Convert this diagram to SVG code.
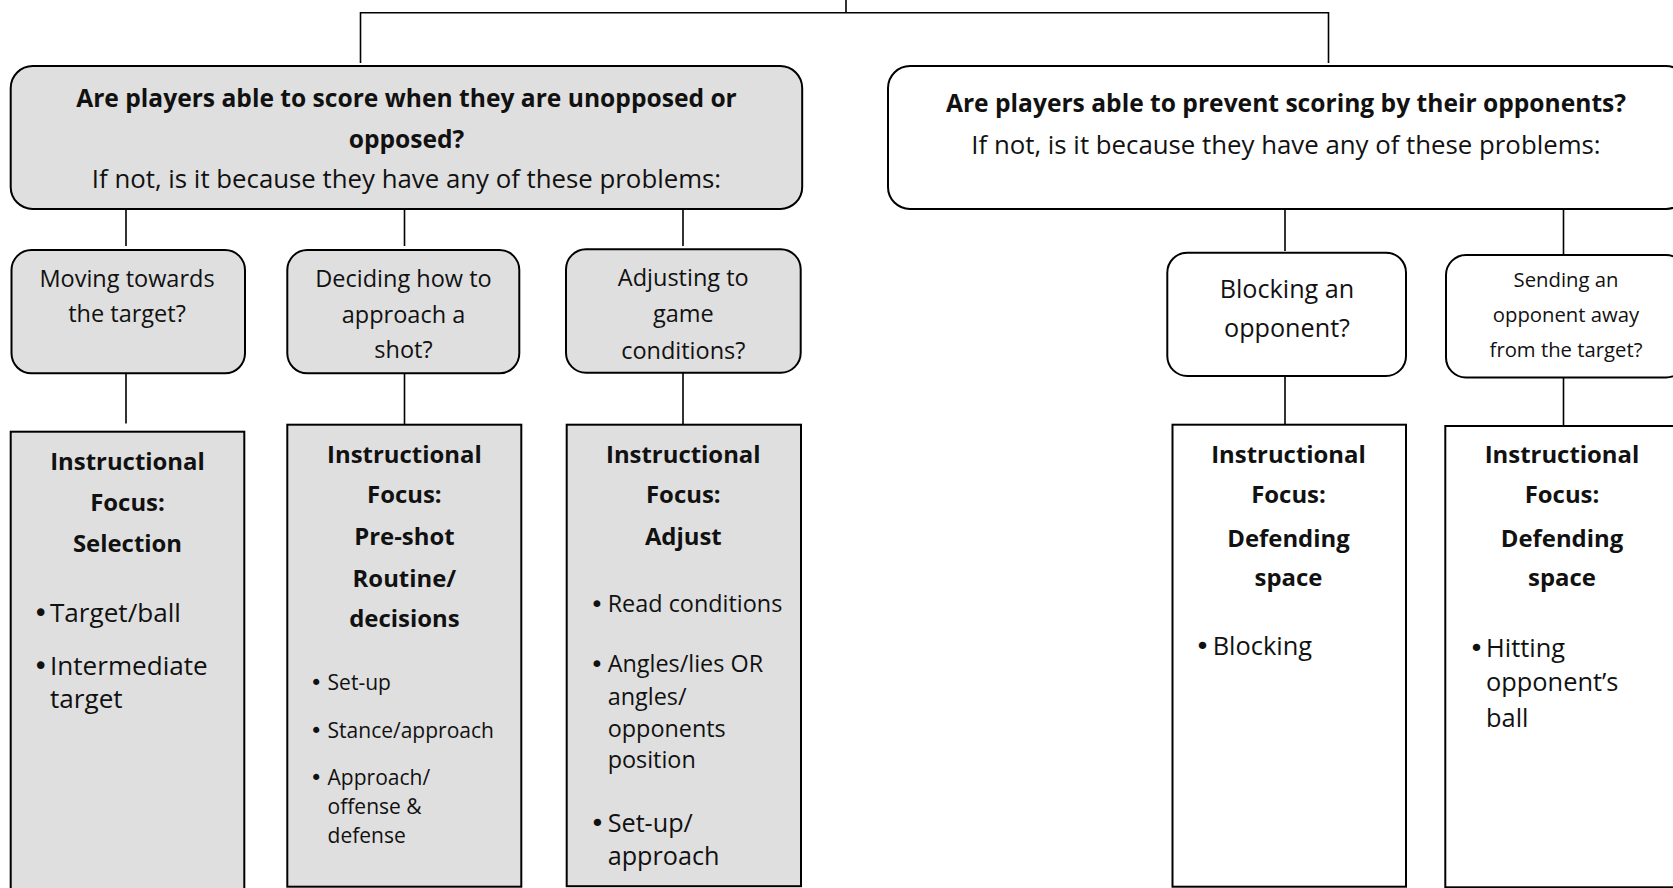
<svg xmlns="http://www.w3.org/2000/svg" width="1673" height="888" viewBox="0 0 1673 888">
<style>
.g{fill:#dfdfdf;stroke:#000;stroke-width:2}
.w{fill:#fff;stroke:#000;stroke-width:2}
.ln{stroke:#000;stroke-width:1.6;fill:none}
text{font-family:"Open Sans","Noto Sans","Liberation Sans",sans-serif;fill:#111}
.c{text-anchor:middle}
.b{font-weight:bold}
.h{font-weight:bold;font-size:23.9px;text-anchor:middle}
.bu{font-family:"DejaVu Sans","Open Sans",sans-serif}
</style>
<rect width="1673" height="888" fill="#fff"/>
<g id="connectors">
<path class="ln" d="M846 0V12.8M360.5 63V12.8H1328.5V63"/>
<path class="ln" d="M126 207V246M404.5 207V246M683 207V246"/>
<path class="ln" d="M126 370V423.5M404.5 373V424.7M683 372V424.7"/>
<path class="ln" d="M1285 207V251M1563.5 207V254"/>
<path class="ln" d="M1285 376V424.7M1563.5 374V426"/>
</g>
<g id="q1">
<rect class="g" x="10.7" y="66" width="791.5" height="143" rx="22"/>
<text class="c b" x="406.5" y="106.5" font-size="24.6">Are players able to score when they are unopposed or</text>
<text class="c b" x="406.5" y="148.3" font-size="24.6">opposed?</text>
<text class="c" x="406.5" y="188.3" font-size="25.8">If not, is it because they have any of these problems:</text>
</g>
<g id="q2">
<rect class="w" x="888" y="66" width="800" height="143" rx="22"/>
<text class="c b" x="1286" y="112" font-size="24.6">Are players able to prevent scoring by their opponents?</text>
<text class="c" x="1286" y="154" font-size="25.8">If not, is it because they have any of these problems:</text>
</g>
<g id="p1">
<rect class="g" x="11.5" y="250" width="233.5" height="123.3" rx="20"/>
<text class="c" x="127" y="286.7" font-size="23.5">Moving towards</text>
<text class="c" x="127" y="321.5" font-size="23.5">the target?</text>
</g>
<g id="p2">
<rect class="g" x="287.3" y="250" width="232" height="123.3" rx="20"/>
<text class="c" x="403.5" y="286.7" font-size="23.5">Deciding how to</text>
<text class="c" x="403.5" y="322.5" font-size="23.5">approach a</text>
<text class="c" x="403.5" y="358.3" font-size="23.5">shot?</text>
</g>
<g id="p3">
<rect class="g" x="566" y="249.3" width="234.7" height="123.4" rx="20"/>
<text class="c" x="683.3" y="285.5" font-size="23.5">Adjusting to</text>
<text class="c" x="683.3" y="321.7" font-size="23.5">game</text>
<text class="c" x="683.3" y="358.5" font-size="23.5">conditions?</text>
</g>
<g id="p4">
<rect class="w" x="1167.3" y="252.7" width="238.7" height="123.3" rx="20"/>
<text class="c" x="1287" y="297.5" font-size="25.2">Blocking an</text>
<text class="c" x="1287" y="336.5" font-size="25.2">opponent?</text>
</g>
<g id="p5">
<rect class="w" x="1446" y="255" width="240" height="122.5" rx="20"/>
<text class="c" x="1566" y="287" font-size="20.3">Sending an</text>
<text class="c" x="1566" y="322" font-size="20.3">opponent away</text>
<text class="c" x="1566" y="357" font-size="20.3">from the target?</text>
</g>
<g id="f1">
<rect class="g" x="10.7" y="431.7" width="233.6" height="470"/>
<text class="h" x="127.5" y="470">Instructional</text>
<text class="h" x="127.5" y="510.7">Focus:</text>
<text class="h" x="127.5" y="552.3">Selection</text>
<text font-size="26.1" y="621.7"><tspan class="bu" x="33">•</tspan><tspan x="50">Target/ball</tspan></text>
<text font-size="26.1" y="675"><tspan class="bu" x="33">•</tspan><tspan x="50">Intermediate</tspan><tspan x="50" dy="33.3">target</tspan></text>
</g>
<g id="f2">
<rect class="g" x="287.3" y="424.7" width="234" height="462"/>
<text class="h" x="404.4" y="462.7">Instructional</text>
<text class="h" x="404.4" y="503.3">Focus:</text>
<text class="h" x="404.4" y="545">Pre-shot</text>
<text class="h" x="404.4" y="586.7">Routine/</text>
<text class="h" x="404.4" y="627.3">decisions</text>
<text font-size="21" y="690"><tspan class="bu" x="310">•</tspan><tspan x="327.6">Set-up</tspan></text>
<text font-size="21" y="737.5"><tspan class="bu" x="310">•</tspan><tspan x="327.6">Stance/approach</tspan></text>
<text font-size="21" y="785"><tspan class="bu" x="310">•</tspan><tspan x="327.6">Approach/</tspan><tspan x="327.6" dy="28.5">offense &amp;</tspan><tspan x="327.6" dy="29">defense</tspan></text>
</g>
<g id="f3">
<rect class="g" x="566.7" y="424.7" width="234.3" height="461.5"/>
<text class="h" x="683.3" y="462.7">Instructional</text>
<text class="h" x="683.3" y="503.3">Focus:</text>
<text class="h" x="683.3" y="545">Adjust</text>
<text font-size="23.4" y="611.7"><tspan class="bu" x="590">•</tspan><tspan x="607.7">Read conditions</tspan></text>
<text font-size="23.4" y="672.3"><tspan class="bu" x="590">•</tspan><tspan x="607.7">Angles/lies OR</tspan><tspan x="607.7" dy="32.7">angles/</tspan><tspan x="607.7" dy="31.5">opponents</tspan><tspan x="607.7" dy="31.8">position</tspan></text>
<text font-size="25.2" y="832"><tspan class="bu" x="590">•</tspan><tspan x="607.7">Set-up/</tspan><tspan x="607.7" dy="33">approach</tspan></text>
</g>
<g id="f4">
<rect class="w" x="1172.5" y="424.7" width="233.5" height="462"/>
<text class="h" x="1288.5" y="463.3">Instructional</text>
<text class="h" x="1288.5" y="503.3">Focus:</text>
<text class="h" x="1288.5" y="546.7">Defending</text>
<text class="h" x="1288.5" y="586">space</text>
<text font-size="25.4" y="655"><tspan class="bu" x="1195">•</tspan><tspan x="1212.7">Blocking</tspan></text>
</g>
<g id="f5">
<rect class="w" x="1445.3" y="426" width="245" height="461.3"/>
<text class="h" x="1562" y="463.3">Instructional</text>
<text class="h" x="1562" y="503.3">Focus:</text>
<text class="h" x="1562" y="546.7">Defending</text>
<text class="h" x="1562" y="586">space</text>
<text font-size="25.4" y="657"><tspan class="bu" x="1469">•</tspan><tspan x="1486">Hitting</tspan><tspan x="1486" dy="34">opponent’s</tspan><tspan x="1486" dy="35.5">ball</tspan></text>
</g>
</svg>
